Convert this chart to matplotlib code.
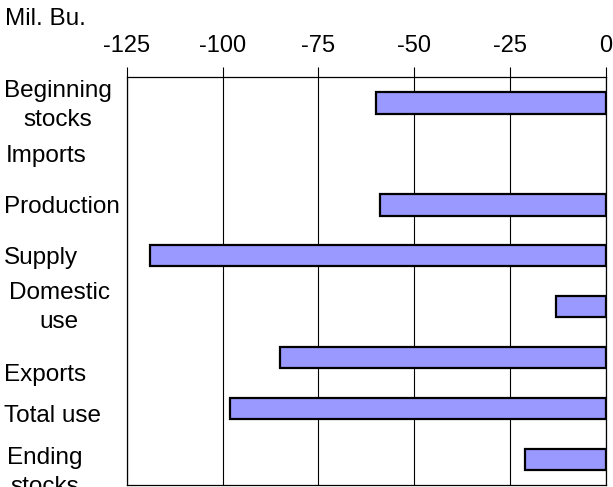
import matplotlib
matplotlib.use("Agg")
import matplotlib.pyplot as plt
import matplotlib.transforms as mtransforms

# Change from previous estimate, million bushels
categories = ["Beginning\nstocks", "Imports", "Production", "Supply",
              "Domestic\nuse", "Exports", "Total use", "Ending\nstocks"]
changes = [-60, 0, -59, -119, -13, -85, -98, -21]
x_ticks = [-125, -100, -75, -50, -25, 0]

plt.rcParams['font.family'] = ['Liberation Sans', 'DejaVu Sans']

fig = plt.figure(figsize=(6.13, 4.87), dpi=100)
ax = fig.add_axes([0.207, 0.004, 0.781, 0.837])

pos = list(range(len(categories)))
edges = ['black' if v != 0 else 'none' for v in changes]
ax.barh(pos, changes, height=0.42, color='#9999ff', edgecolor=edges,
        linewidth=1.6, zorder=3)

ax.set_xlim(-125, 0)
ax.set_ylim(len(categories) - 0.5, -0.5)
ax.set_xticks(x_ticks)
ax.set_xticklabels([str(t) for t in x_ticks], fontsize=17)
ax.xaxis.tick_top()
ax.tick_params(axis='x', direction='out', length=7, width=0.8, pad=8)
ax.grid(axis='x', color='black', linewidth=0.8, zorder=1)

ax.set_yticks(pos)
ax.set_yticklabels(categories, fontsize=17.5)
ax.tick_params(axis='y', length=0, pad=0)

# labels sit near the left edge of the figure, some drift a little (px)
nudge_x = [0, 2, 0, 0, 5, 0, 0, 3]
nudge_y = [-3, 0, 0, 0, -5, 15, 5, 7]
for lab, dx, dy in zip(ax.get_yticklabels(), nudge_x, nudge_y):
    lab.set_horizontalalignment('left')
    lab.set_multialignment('center')
    lab.set_linespacing(1.38)
    off = mtransforms.ScaledTranslation(dx / fig.dpi, -dy / fig.dpi,
                                        fig.dpi_scale_trans)
    lab.set_transform(mtransforms.blended_transform_factory(
        fig.transFigure, ax.transData) + off)
    lab.set_x(0.006)

for side in ['left', 'right', 'top', 'bottom']:
    ax.spines[side].set_linewidth(0.9)

fig.text(0.008, 0.962, "Mil. Bu.", fontsize=17.5, ha='left', va='center')

fig.savefig("out.png", dpi=100)
